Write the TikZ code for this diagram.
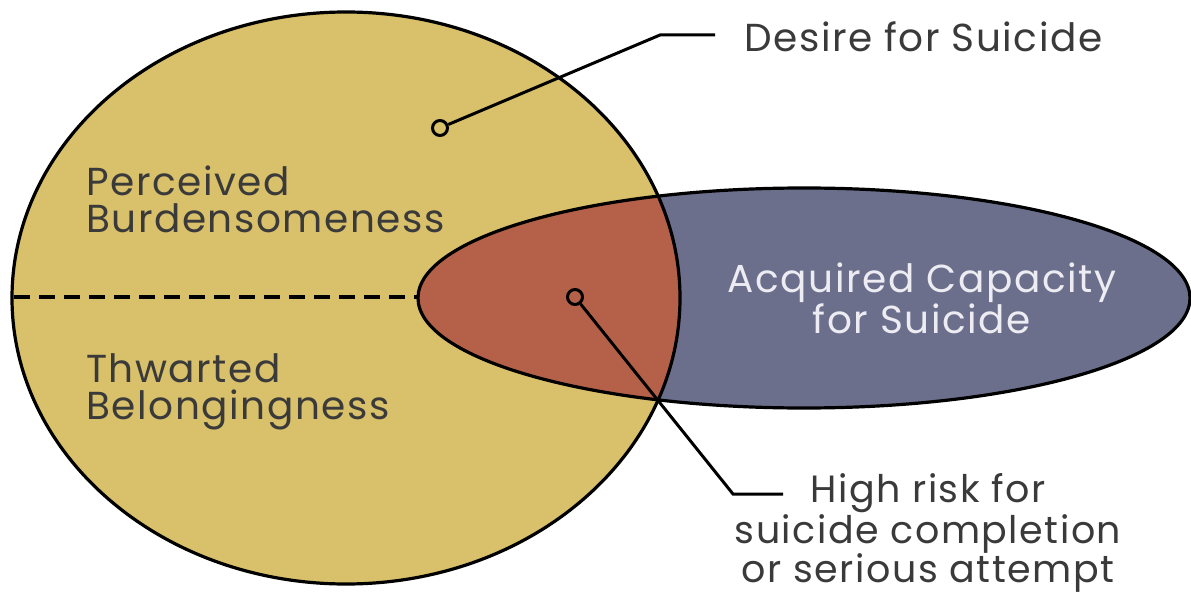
\documentclass[tikz,border=0pt]{standalone}
\usepackage{fontspec}
\setmainfont{Poppins}[LetterSpace=4]
\definecolor{gold}{HTML}{D9C06A}
\definecolor{rust}{HTML}{B5614A}
\definecolor{slate}{HTML}{6B6F8C}
\definecolor{txt}{HTML}{3A3A3A}
\definecolor{lighttxt}{HTML}{ECECF2}
\tikzset{
  outline/.style={draw=black, line width=3.2pt},
  lbl/.style={text=txt, font=\fontsize{39}{39}\selectfont, inner sep=0pt},
  dot/.style={circle, draw=black, line width=3pt, minimum size=15pt, inner sep=0pt},
  leader/.style={draw=black, line width=3pt}
}
\begin{document}
\begin{tikzpicture}[x=1pt,y=-1pt]
\useasboundingbox (0,0) rectangle (1191,596);
% shapes
\fill[gold] (346,298) ellipse [x radius=334pt, y radius=286pt];
\fill[slate] (804,298) ellipse [x radius=386pt, y radius=110pt];
\begin{scope}
  \clip (346,298) ellipse [x radius=334pt, y radius=286pt];
  \fill[rust] (804,298) ellipse [x radius=386pt, y radius=110pt];
\end{scope}
\draw[outline] (346,298) ellipse [x radius=334pt, y radius=286pt];
\draw[outline] (804,298) ellipse [x radius=386pt, y radius=110pt];
\draw[black, line width=3.4pt, dash pattern=on 16pt off 9pt] (14,297) -- (418,297);
% labels
\node[lbl, anchor=west, align=left, font=\fontsize{39}{37}\selectfont] (pb) at (86,199) {Perceived\\Burdensomeness};
\node[lbl, anchor=west, align=left, font=\fontsize{39}{37}\selectfont] (tb) at (86,392) {Thwarted\\Belongingness};
\node[lbl, text=lighttxt, align=center, font=\fontsize{39}{41}\selectfont] (acq) at (922,298) {Acquired Capacity\\for Suicide};
\node[lbl, anchor=west] (des) at (744,37) {Desire for Suicide};
\node[lbl, align=center, font=\fontsize{38}{39}\selectfont] (risk) at (928,533) {High risk for\\suicide completion\\or serious attempt};
% leaders
\node[dot, fill=gold] (d1) at (440,128) {};
\node[dot, fill=rust] (d2) at (575,297) {};
\coordinate (k1) at (660,35);
\coordinate (e1) at (715,35);
\coordinate (k2) at (733,494);
\coordinate (e2) at (783,494);
\draw[leader, line join=miter] (d1) -- (k1) -- (e1);
\draw[leader, line join=miter] (d2) -- (k2) -- (e2);
\end{tikzpicture}
\end{document}
